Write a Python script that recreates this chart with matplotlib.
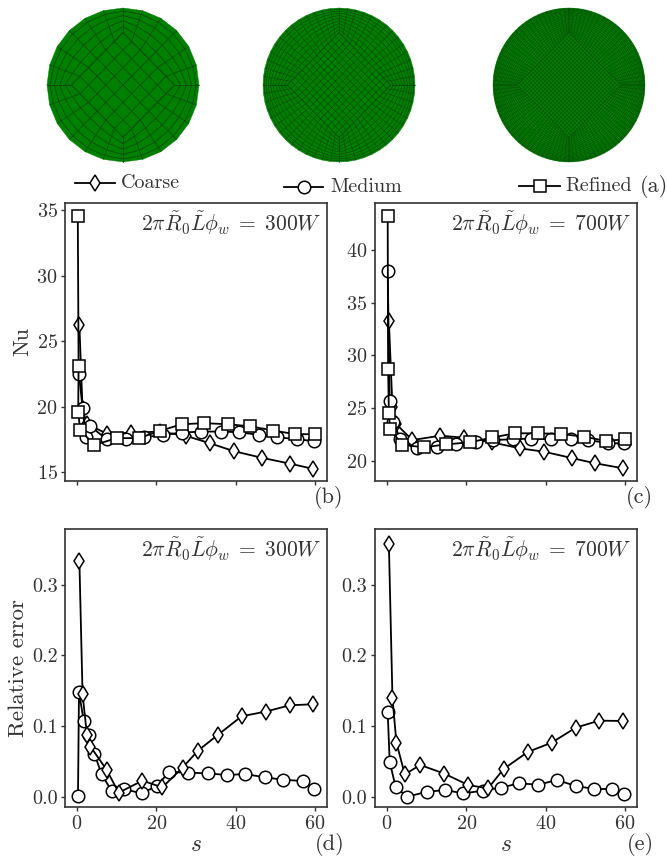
import numpy as np
import matplotlib
matplotlib.use('Agg')
import matplotlib.pyplot as plt
from matplotlib.collections import PolyCollection, LineCollection

plt.rcParams['font.family'] = ['cmr10', 'DejaVu Sans']
plt.rcParams['mathtext.fontset'] = 'cm'
plt.rcParams['axes.formatter.use_mathtext'] = True
plt.rcParams['axes.unicode_minus'] = False

W, H = 667, 857
INK = '#333333'

# Nu, 300W
nu300_coarse_s = [0.6, 1.4, 2.5, 7.5, 13.5, 20.8, 27.5, 33.6, 39.6, 46.6, 53.6, 59.6]
nu300_coarse = [26.2, 19.8, 18.66, 17.95, 18.0, 18.1, 17.77, 17.2, 16.6, 16.1, 15.66, 15.25]
nu300_medium_s = [0.5, 1.4, 2.2, 3.4, 7.5, 12.3, 17.0, 21.8, 26.4, 31.3, 36.4, 40.8, 45.9, 50.3, 55.4, 59.7]
nu300_medium = [22.5, 19.9, 17.7, 18.5, 17.5, 17.52, 17.67, 17.85, 18.02, 18.1, 18.1, 18.05, 17.85, 17.67, 17.52, 17.37]
nu300_refined_s = [0.2, 0.4, 0.3, 0.8, 4.4, 10.0, 15.6, 20.9, 26.4, 32.1, 38.0, 43.7, 49.5, 55.0, 60.0]
nu300_refined = [34.57, 23.08, 19.6, 18.2, 17.08, 17.6, 17.6, 18.15, 18.66, 18.74, 18.66, 18.5, 18.18, 17.9, 17.9]

# Nu, 700W
nu700_coarse_s = [0.5, 1.4, 2.4, 6.4, 13.5, 19.5, 26.5, 33.5, 39.6, 46.6, 52.5, 59.6]
nu700_coarse = [33.26, 25.06, 23.45, 21.96, 22.37, 22.18, 21.74, 21.17, 20.85, 20.25, 19.75, 19.27]
nu700_medium_s = [0.2, 0.7, 1.6, 3.3, 7.6, 12.7, 17.3, 22.4, 26.8, 31.8, 36.2, 41.3, 46.3, 50.8, 55.8, 59.8]
nu700_medium = [38.04, 25.7, 23.7, 22.1, 21.17, 21.27, 21.55, 21.74, 21.96, 22.03, 22.1, 22.03, 22.03, 21.96, 21.65, 21.65]
nu700_refined_s = [0.2, 0.3, 0.5, 0.8, 3.9, 9.4, 15.0, 20.9, 26.6, 32.3, 38.2, 43.9, 49.7, 55.2, 60.0]
nu700_refined = [43.26, 28.7, 24.5, 23.0, 21.5, 21.27, 21.55, 21.74, 22.2, 22.6, 22.6, 22.53, 22.28, 21.87, 22.03]

# Relative error, 300W
err300_coarse_s = [0.6, 1.4, 2.5, 3.4, 7.5, 10.5, 16.5, 21.5, 26.6, 30.5, 35.5, 41.5, 47.6, 53.6, 59.6]
err300_coarse = [0.334, 0.1455, 0.0874, 0.0709, 0.0378, 0.0057, 0.0227, 0.0132, 0.0411, 0.0652, 0.0874, 0.1139, 0.1205, 0.1294, 0.1309]
err300_medium_s = [0.25, 0.5, 1.7, 3.0, 4.4, 6.2, 8.7, 11.8, 16.3, 20.1, 23.2, 28.0, 32.9, 37.8, 42.4, 47.4, 51.9, 56.9, 59.8]
err300_medium = [0.0014, 0.1479, 0.1072, 0.0874, 0.0609, 0.0317, 0.0085, 0.0109, 0.0047, 0.0151, 0.035, 0.034, 0.0331, 0.0307, 0.0321, 0.0274, 0.0241, 0.0222, 0.0109]

# Relative error, 700W
err700_coarse_s = [0.5, 1.4, 2.4, 4.5, 8.4, 14.5, 20.5, 25.5, 29.4, 35.5, 41.5, 47.6, 53.5, 59.5]
err700_coarse = [0.3576, 0.1394, 0.0765, 0.0317, 0.0449, 0.0326, 0.0165, 0.0118, 0.0392, 0.0633, 0.0765, 0.0978, 0.1077, 0.1072]
err700_medium_s = [0.2, 0.7, 2.2, 5.1, 10.2, 14.7, 19.3, 24.1, 28.7, 33.3, 38.2, 42.8, 47.7, 52.3, 56.8, 59.7]
err700_medium = [0.1196, 0.0496, 0.0137, 0.0, 0.0071, 0.0094, 0.0047, 0.0085, 0.0128, 0.0189, 0.017, 0.0236, 0.0151, 0.0109, 0.0109, 0.0033]

legend_names = ['Coarse', 'Medium', 'Refined']
mesh_sizes = [6, 14, 26]
mesh_layers = [5, 10, 20]
markers = {'Coarse': ('d', 8.2), 'Medium': ('o', 9), 'Refined': ('s', 9)}


def px_axes(fig, left, top, right, bottom):
    return fig.add_axes([left / W, 1 - bottom / H, (right - left) / W, (bottom - top) / H])


def draw(ax, s, y, name):
    m, ms = markers[name]
    ax.plot(s, y, color='black', lw=1.3, marker=m, ms=ms, mfc='white', mec='black', mew=1.1)


def style(ax, xlim, ylim, xticks, yticks, label):
    ax.set_xlim(xlim)
    ax.set_ylim(ylim)
    ax.set_xticks(xticks)
    ax.set_yticks(yticks)
    ax.tick_params(labelsize=14.5, colors=INK, length=3, width=1, pad=2.5)
    for sp in ax.spines.values():
        sp.set_linewidth(1.2)
        sp.set_color('#333333')
    ax.text(0.98, 0.975, label, transform=ax.transAxes, ha='right', va='top', fontsize=15.5, color=INK)


# O-grid mesh of a sphere seen from the front: fills and inner lines, outer ring left out
def sphere_mesh(n, m):
    a = 0.68
    polys = []
    lines = []
    beta = 1 - (1 - np.linspace(0, 1, m + 1)) ** 1.3

    t = np.linspace(-1, 1, n + 1)
    u, v = np.meshgrid(t, t)
    cx = a * (u + v) / 2
    cy = a * (u - v) / 2
    polys.append(np.c_[[-a, 0, a, 0], [0, a, 0, -a]])
    for i in range(n + 1):
        lines.append(np.c_[cx[i, :], cy[i, :]])
        lines.append(np.c_[cx[:, i], cy[:, i]])

    for k in range(4):
        rot = k * np.pi / 2
        th = rot + np.linspace(0, np.pi / 2, n + 1)
        ox, oy = np.cos(th), np.sin(th)
        w = np.linspace(0, 1, n + 1)
        ix = a * (np.cos(rot) * (1 - w) + np.cos(rot + np.pi / 2) * w)
        iy = a * (np.sin(rot) * (1 - w) + np.sin(rot + np.pi / 2) * w)
        px = np.outer(1 - beta, ix) + np.outer(beta, ox)
        py = np.outer(1 - beta, iy) + np.outer(beta, oy)
        polys.append(np.r_[np.c_[ix, iy], np.c_[ox, oy][::-1]])
        for i in range(m):
            lines.append(np.c_[px[i, :], py[i, :]])
        for j in range(n + 1):
            lines.append(np.c_[px[:, j], py[:, j]])
    return polys, lines


fig = plt.figure(figsize=(W / 100, H / 100), dpi=100)

# Overlay in pixel coordinates for spheres, legend keys and panel letters
over = fig.add_axes([0, 0, 1, 1])
over.set_xlim(0, W)
over.set_ylim(H, 0)
over.axis('off')

centres = [123, 339, 569]
line_cols = ['#0b4d0b', '#0a4a0a', '#0a4a0a']
line_w = [0.6, 0.45, 0.35]
for cx, n, m, lc, lw in zip(centres, mesh_sizes, mesh_layers, line_cols, line_w):
    polys, lines = sphere_mesh(n, m)
    over.add_collection(PolyCollection([p * [76, 77] + [cx, 85] for p in polys],
                                       facecolors='#008000', edgecolors='#008000', linewidths=0.3))
    over.add_collection(LineCollection([l * [76, 77] + [cx, 85] for l in lines], colors=lc, linewidths=lw))

key_x = [(75, 115, 121, 183), (284, 323, 330, 187), (519, 560, 565, 186)]
for name, (x0, x1, xt, yk) in zip(legend_names, key_x):
    m, ms = markers[name]
    over.plot([x0, x1], [yk, yk], color='black', lw=1.3)
    over.plot([(x0 + x1) / 2], [yk], color='black', marker=m, ms=ms, mfc='white', mec='black', mew=1.1)
    over.text(xt, yk, name, fontsize=14.5, va='center', ha='left', color=INK)

panel_letters = ['(a)', '(b)', '(c)', '(d)', '(e)']
letter_pos = [(654, 186), (329, 497), (639, 497), (330, 845), (640, 845)]
for lab, (xp, yp) in zip(panel_letters, letter_pos):
    over.text(xp, yp, lab, fontsize=16, ha='center', va='center', color=INK)

xticks = [0, 20, 40, 60]
title_300 = r'$2\pi\tilde{R}_0\tilde{L}\phi_w\;=\;300W$'
title_700 = r'$2\pi\tilde{R}_0\tilde{L}\phi_w\;=\;700W$'

ax_b = px_axes(fig, 65.3, 203, 326.7, 481)
draw(ax_b, nu300_coarse_s, nu300_coarse, 'Coarse')
draw(ax_b, nu300_medium_s, nu300_medium, 'Medium')
draw(ax_b, nu300_refined_s, nu300_refined, 'Refined')
style(ax_b, (-2.95, 62.95), (14.33, 35.53), xticks, [15, 20, 25, 30, 35], title_300)
ax_b.set_xticklabels([])
ax_b.set_ylabel('Nu', fontsize=16, color=INK, labelpad=3)

ax_c = px_axes(fig, 375, 203, 636.7, 481)
draw(ax_c, nu700_coarse_s, nu700_coarse, 'Coarse')
draw(ax_c, nu700_medium_s, nu700_medium, 'Medium')
draw(ax_c, nu700_refined_s, nu700_refined, 'Refined')
style(ax_c, (-3.0, 62.95), (18.07, 44.46), xticks, [20, 25, 30, 35, 40], title_700)
ax_c.set_xticklabels([])

ax_d = px_axes(fig, 65.3, 529, 326.7, 807.3)
draw(ax_d, err300_medium_s, err300_medium, 'Medium')
draw(ax_d, err300_coarse_s, err300_coarse, 'Coarse')
style(ax_d, (-2.95, 62.95), (-0.015, 0.379), xticks, [0, 0.1, 0.2, 0.3], title_300)
ax_d.set_yticklabels(['0.0', '0.1', '0.2', '0.3'])
ax_d.set_xlabel(r'$s$', fontsize=17, color=INK, labelpad=1)
ax_d.set_ylabel('Relative error', fontsize=16.5, color=INK, labelpad=3)

ax_e = px_axes(fig, 375, 529, 636.7, 807.3)
draw(ax_e, err700_medium_s, err700_medium, 'Medium')
draw(ax_e, err700_coarse_s, err700_coarse, 'Coarse')
style(ax_e, (-3.0, 62.95), (-0.015, 0.379), xticks, [0, 0.1, 0.2, 0.3], title_700)
ax_e.set_yticklabels(['0.0', '0.1', '0.2', '0.3'])
ax_e.set_xlabel(r'$s$', fontsize=17, color=INK, labelpad=1)

fig.savefig('out.png', dpi=100)
